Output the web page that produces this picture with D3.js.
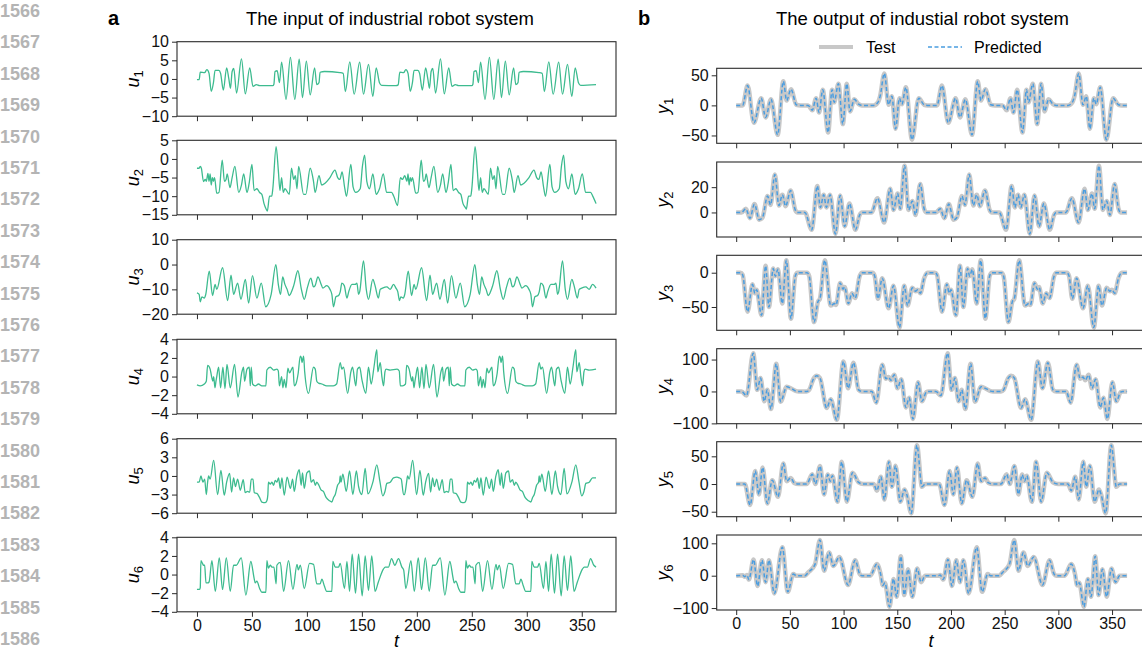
<!DOCTYPE html>
<html><head><meta charset="utf-8">
<script src="https://cdn.jsdelivr.net/npm/d3@7"></script>
<style>
body{margin:0;background:#fff;overflow:hidden}
text{font-family:"Liberation Sans",Arial,Helvetica,sans-serif}
</style>
</head><body>
<svg id="chart" width="1142" height="651"></svg>
<script>
// ---------------- DATA ----------------
const tTicks = [0, 50, 100, 150, 200, 250, 300, 350];
const lineNumbers = [1566,1567,1568,1569,1570,1571,1572,1573,1574,1575,1576,1577,1578,1579,1580,1581,1582,1583,1584,1585,1586];
const inputLabels = ["1","2","3","4","5","6"];
const outputLabels = ["1","2","3","4","5","6"];
const legendLabels = ["Test", "Predicted"];
const titleA = "The input of industrial robot system";
const titleB = "The output of industial robot system";

const inputYTicks = [[-10,-5,0,5,10],[-15,-10,-5,0,5],[-20,-10,0,10],[-4,-2,0,2,4],[-6,-3,0,3,6],[-4,-2,0,2,4]];
const outputYTicks = [[-50,0,50],[0,20],[-50,0],[-100,0,100],[-50,0,50],[-100,0,100]];

// input u1..u6 : [t, value]
const u1 = [[0,-0.2],[2,-0.2],[3,1.8],[7,1.7],[9,2.5],[11,1.5],[13,-3.3],[15,-1],[16.5,2.3],[20,2.3],[21.5,1.5],[24,-3],[27,3],[29,0],[30.5,-2.5],[32,2],[33.5,2.8],[36,-3.8],[40.5,5.4],[44,-4],[48,3],[51,-2],[54,-1.5],[57,-1.8],[69,-1.8],[70,-1.4],[71,2],[73,2.2],[75,-1],[77,4.5],[81,-5.5],[85,5.8],[89,-5.5],[93,5.3],[96,-5],[99.5,4.8],[103,-4.3],[107,3],[109,-1.5],[111,-1],[112,1.8],[116,2],[130,1.7],[133,1.5],[135,-3.4],[139,4.6],[143,-4.1],[148,4.5],[151.5,-4.1],[156,3.9],[160,-4.7],[163,3],[166,-1],[168,-1.7],[181,-1.8],
[183,-1.6],[184.5,1.8],[188,1.7],[190,2.5],[192,1.5],[194,-3.3],[196,-1],[197.5,2.3],[201,2.3],[202.5,1.5],[205,-3],[208,3],[210,0],[211.5,-2.5],[213,2],[214.5,2.8],[217,-3.8],[221.5,5.4],[225,-4],[229,3],[232,-2],[235,-1.5],[238,-1.8],[250,-1.8],[251,-1.4],[252,2],[254,2.2],[256,-1],[258,4.5],[262,-5.5],[266,5.8],[270,-5.5],[274,5.3],[277,-5],[280.5,4.8],[284,-4.3],[288,3],[290,-1.5],[292,-1],[293,1.8],[297,2],[311,1.7],[314,1.5],[316,-3.4],[320,4.6],[324,-4.1],[329,4.5],[332.5,-4.1],[337,3.9],[341,-4.7],[344,3],[347,-1],[349,-1.7],[363,-1.5]];

const u2 = [[0,-2.5],[2,-2.5],[3,-2],[4,-2.5],[6,-6.1],[7.5,-5.5],[8.5,-6],[10,-3.9],[11,-6],[12,-4],[13,-7],[14,-5],[15,-6],[16,-5],[18,-9.2],[20,-9],[23,-0.3],[25,-6],[26.5,-5.5],[27.5,-4],[30,-7.7],[32,-5],[34.5,-2],[38,-9],[40.5,-7],[42.5,-4],[45.5,-9],[47.5,-6.5],[50,-1.5],[52,-8.5],[54.5,-8],[57,-9],[59,-9.5],[61,-12],[63,-13.5],[64,-14],[66,-10],[68,-10],[69,-8],[72,3.3],[74,-3],[75.5,-8.5],[77,-5],[78.5,-9],[80,-8],[84,-9.5],[86,-2.5],[88,-5.5],[89.5,-4.5],[91,-8],[92.5,-2],[97,-9.5],[99,-9.5],[103,-2.5],[106,-6],[107.5,-9],[111,-4.5],[113.5,-7],[116.5,-6.5],[121,-5],[125.5,-3],[128,-5],[130,-5.5],[132,-3.5],[134.5,-8],[136,-10],[140,-1.5],[142,-7.5],[144.5,-9],[148.5,-8],[150.5,-2],[152.5,1],[154.5,-6],[157,-8],[160,-4],[163,-9.5],[166,-8],[169.5,-4],[172.5,-9],[177,-9],[179,-10],[182.5,-12.5],
[185,-5],[187,-5.5],[189,-4.5],[191,-6],[192,-4],[193,-7],[194,-5],[195,-6],[196,-5],[199,-9.2],[201,-9],[204,-0.3],[206,-6],[207.5,-5.5],[208.5,-4],[211,-7.7],[213,-5],[215.5,-2],[219,-9],[221.5,-7],[223.5,-4],[226.5,-9],[228.5,-6.5],[231,-1.5],[233,-8.5],[235.5,-8],[238,-9],[240,-9.5],[242,-12],[244,-13],[245,-13.5],[247,-10],[249,-10],[250,-8],[253,3.3],[255,-3],[256.5,-8.5],[258,-5],[259.5,-9],[261,-8],[265,-9.5],[267,-2.5],[269,-5.5],[270.5,-4.5],[272,-8],[273.5,-2],[278,-9.5],[280,-9.5],[284,-2.5],[287,-6],[288.5,-9],[292,-4.5],[294.5,-7],[297.5,-6.5],[302,-5],[306.5,-3],[309,-5],[311,-5.5],[313,-3.5],[315.5,-8],[317,-10],[321,-1.5],[323,-7.5],[325.5,-9],[329.5,-8],[331.5,-2],[333.5,1],[335.5,-6],[338,-8],[341,-4],[344,-9.5],[347,-8],[350.5,-4],[353.5,-9],[358,-9],[360,-10],[363,-12]];

const u3 = [[0,-11.4],[2,-12],[3,-15],[4.5,-13],[6.7,-13.5],[8,-12],[11.2,-2.7],[14.2,-12.5],[16.5,-8],[18,-10],[23.3,-1.3],[27.9,-14.5],[31,-4.3],[33.3,-12],[37,-7.5],[40,-14],[44,-6],[47,-15.5],[50.5,-4.5],[54.5,-13.5],[58.5,-7.5],[62.5,-17],[67.5,-12],[71.8,0],[74,-8],[76,-12],[78,-5],[80,-8],[82,-10],[84,-12.5],[86,-11],[88,-8.5],[91.8,-2.5],[95,-10],[97.6,-14],[100.6,-9],[103.6,-5.5],[106,-9],[107.5,-8.5],[110,-5],[113,-8],[114.5,-9.5],[118,-8.5],[121,-10],[122.7,-12],[124.2,-17],[126.4,-13],[128.8,-12.5],[130.3,-11],[131.8,-7.5],[134,-8.5],[136.4,-13.5],[138,-11],[141,-8],[144,-8],[145.5,-7.5],[147,-12],[148,-11],[151.5,1.5],[154,-10],[156,-14],[160,-6],[162,-8.5],[165,-13.5],[166.7,-10],[168.8,-9.5],[172.7,-9],[175.8,-10],[178.8,-8],[181,-9.5],[182.7,-11],[184.2,-14.5],
[185.5,-13],[187.7,-13.5],[189,-12],[192.2,-2.7],[195.2,-12.5],[197.5,-8],[199,-10],[204.3,-1.3],[208.9,-14.5],[212,-4.3],[214.3,-12],[218,-7.5],[221,-14],[225,-6],[228,-15.5],[231.5,-4.5],[235.5,-13.5],[239.5,-7.5],[243.5,-17],[248.5,-12],[252.8,0],[255,-8],[257,-12],[259,-5],[261,-8],[263,-10],[265,-12.5],[267,-11],[269,-8.5],[272.8,-2.5],[276,-10],[278.6,-14],[281.6,-9],[284.6,-5.5],[287,-9],[288.5,-8.5],[291,-5],[294,-8],[295.5,-9.5],[299,-8.5],[302,-10],[303.7,-12],[305.2,-17],[307.4,-13],[309.8,-12.5],[311.3,-11],[312.8,-7.5],[315,-8.5],[317.4,-13.5],[319,-11],[322,-8],[325,-8],[326.5,-7.5],[328,-12],[329,-11],[332.5,1.5],[335,-10],[337,-14],[341,-6],[343,-8.5],[346,-13.5],[347.7,-10],[349.8,-9.5],[353.7,-9],[356.8,-10],[359.8,-8],[363,-9.5]];

const u4 = [[0,-0.9],[3,-1],[6.7,-0.8],[8.5,-0.5],[9.7,1.2],[12,0.8],[13.3,0],[14.5,-0.5],[15.2,0],[16.4,-1.2],[17.3,-0.5],[18,0],[19.7,1],[21.5,-1.2],[23.6,1],[25.5,-1.3],[27.3,1.3],[30.3,-1.2],[34.2,1.3],[37.3,-2.2],[40.9,0.5],[42.4,1],[43.3,-0.5],[45.5,0.8],[47.6,1],[48.5,-1],[49.4,1],[50.6,-0.8],[53,-1],[56,-0.8],[59,-1],[62.7,-1],[63.6,0.7],[66.7,1],[69.7,0.7],[72.7,0.8],[74,0.6],[75,-1],[77,0],[78.2,-1.2],[79.4,-0.3],[81,-1.2],[82.7,0.9],[84.2,0.4],[87.3,1],[88.5,-1],[90,-0.8],[92,0.3],[94,2.2],[95,2],[95.5,1.5],[97,2.2],[98,0.5],[101.5,-1.8],[106,1],[107.6,0.8],[109,-0.5],[110.6,-0.7],[113.6,-0.8],[118,-1],[124,-1],[127,-0.8],[130.3,1.5],[131.8,0.8],[133.3,1],[137,-1.8],[140,0.5],[141.5,1],[144.5,-1],[146,0.8],[148,1],[150,-0.3],[153.6,-1.8],[156,1],[158.5,-0.8],[161,1],[163.6,2.9],[164.5,0.5],[166.7,1.5],[168.2,0],[169.7,-1],[171,0.5],[172,0.8],[175.7,0.7],[182,0.8],[184,0.6],[185,-1],
[187,-1],[189.7,-0.8],[190.7,1.2],[193,0.8],[194.3,0],[195.5,-0.5],[196.2,0],[197.4,-1.2],[198.3,-0.5],[199,0],[200.7,1],[202.5,-1.2],[204.6,1],[206.5,-1.3],[208.3,1.3],[211.3,-1.2],[215.2,1.3],[218.3,-2.2],[221.9,0.5],[223.4,1],[224.3,-0.5],[226.5,0.8],[228.6,1],[229.5,-1],[230.4,1],[231.6,-0.8],[234,-1],[237,-0.8],[240,-1],[243.7,-1],[244.6,0.7],[247.7,1],[250.7,0.7],[253.7,0.8],[255,0.6],[256,-1],[258,0],[259.2,-1.2],[260.4,-0.3],[262,-1.2],[263.7,0.9],[265.2,0.4],[268.3,1],[269.5,-1],[271,-0.8],[273,0.3],[275,2.2],[276,2],[276.5,1.5],[278,2.2],[279,0.5],[282.5,-1.8],[287,1],[288.6,0.8],[290,-0.5],[291.6,-0.7],[294.6,-0.8],[299,-1],[305,-1],[308,-0.8],[311.3,1.5],[312.8,0.8],[314.3,1],[318,-1.8],[321,0.5],[322.5,1],[325.5,-1],[327,0.8],[329,1],[331,-0.3],[334.6,-1.8],[337,1],[339.5,-0.8],[342,1],[344.6,2.9],[345.5,0.5],[347.7,1.5],[349.2,0],[350.7,-1],[352,0.5],[353,0.8],[356.7,0.7],[363,0.8]];

const u5 = [[0,-1],[2,-1],[3.6,0],[4.5,-0.5],[5.5,-1],[7,-0.5],[8.5,-3],[9.7,-1],[10.6,0],[12,-0.5],[15.2,2.5],[18.8,-3],[21.8,0.9],[24.8,-3.1],[27,-1],[29.7,0.4],[31.5,-2.6],[33.3,-0.3],[35,-1.7],[37,-0.5],[39.4,-2.3],[42.1,-0.6],[43.9,-2.7],[46,-2.5],[48,-2.6],[49.4,-0.5],[51,-0.5],[52.1,-2.7],[54.5,-2.8],[57,-3.5],[59,-4.2],[62.1,-4.3],[63.6,-4],[64.5,-3],[65,-1],[66.7,-1.3],[68.2,-1],[69.7,-1.5],[71.2,-0.7],[72.7,-1],[74.2,-0.3],[75.8,-2],[77.3,-0.3],[79.4,-3.1],[82,-0.2],[85,-2],[87,-0.5],[88.5,-2.5],[90.9,0],[93,1],[94.8,-1.5],[96,0.5],[97.6,-2],[100,0.5],[102.4,0.8],[103.9,-1],[106,-0.6],[107.6,-1.5],[109,-1],[110.9,-1.5],[112.7,-2.2],[115,-2.5],[117.6,-3.5],[120.6,-4],[122.7,-4.2],[124.2,-3.5],[125.8,-3],[127.9,-1.5],[129.7,-1],[130.3,0],[131,-1],[132.7,0.3],[135.8,-2.5],[138.8,0.8],[141.8,-3],[145,0.8],[147,-1.7],[150,-3],[153,1.2],[155.5,-2.9],[160,-1],[163.6,1.8],[166.5,-1],[169,-3.2],[171,-2.5],[172.7,-1.2],[175.8,-1],[178.8,-0.3],[181.8,-0.2],[184,-0.3],[185.8,-0.5],[187.9,-3],
[188.8,-3],[190.7,-1],[191.6,0],[193,-0.5],[196.2,2.5],[199.8,-3],[202.8,0.9],[205.8,-3.1],[208,-1],[210.7,0.4],[212.5,-2.6],[214.3,-0.3],[216,-1.7],[218,-0.5],[220.4,-2.3],[223.1,-0.6],[224.9,-2.7],[227,-2.5],[229,-2.6],[230.4,-0.5],[232,-0.5],[233.1,-2.7],[235.5,-2.8],[238,-3.5],[240,-4.2],[243.1,-4.3],[244.6,-4],[245.5,-3],[246,-1],[247.7,-1.3],[249.2,-1],[250.7,-1.5],[252.2,-0.7],[253.7,-1],[255.2,-0.3],[256.8,-2],[258.3,-0.3],[260.4,-3.1],[263,-0.2],[266,-2],[268,-0.5],[269.5,-2.5],[271.9,0],[274,1],[275.8,-1.5],[277,0.5],[278.6,-2],[281,0.5],[283.4,0.8],[284.9,-1],[287,-0.6],[288.6,-1.5],[290,-1],[291.9,-1.5],[293.7,-2.2],[296,-2.5],[298.6,-3.5],[301.6,-4],[303.7,-4.2],[305.2,-3.5],[306.8,-3],[308.9,-1.5],[310.7,-1],[311.3,0],[312,-1],[313.7,0.3],[316.8,-2.5],[319.8,0.8],[322.8,-3],[326,0.8],[328,-1.7],[331,-3],[334,1.2],[336.5,-2.9],[341,-1],[344.6,1.8],[347.5,-1],[350,-3.2],[352,-2.5],[353.7,-1.2],[356.8,-1],[359.8,-0.3],[363,-0.3]];

const u6 = [[0,-1.6],[2.4,-1.6],[3,-1.4],[3.6,1.5],[5,1.2],[6,1],[7,1],[8.2,-0.9],[9.7,-0.9],[11,-0.8],[13.6,1.5],[16.7,-1.8],[20.3,1.8],[23.3,-1.6],[26.7,1.8],[30.3,-1.8],[33.3,1],[35.8,1],[40.3,1.8],[44.5,-2.2],[49,1.4],[52,-0.4],[53,-0.9],[54.5,-0.7],[57,-1.5],[59,-1.9],[62.7,-1.9],[63.6,1.5],[65,0.7],[66.7,1],[68.2,0.8],[70,0.8],[72,-1],[72.7,1],[75.8,1.3],[78.8,-1.8],[83.3,1.5],[87.3,-1.6],[91,1.1],[92.2,0.5],[94,1],[97.6,-1.5],[102.4,1.2],[106,1.1],[109,-1],[112,-1],[113.6,-0.5],[115.8,-1.2],[118,-1.8],[122.7,-1.8],[123.6,1.4],[125.8,0.8],[128.8,0.8],[130.3,1.2],[134.2,-1.5],[136.4,1.4],[138.8,-1.8],[141.2,2.2],[144.2,-2],[147,2.2],[150.3,-2.3],[153,2],[156,-1.7],[159,2],[162,-1.8],[165,-0.8],[169.7,0.6],[171.2,0.8],[174.2,0.8],[177,1.7],[180,1],[183.3,1.7],[186.4,0.8],[188,0.5],[190,-1.5],
[194.6,1.5],[197.7,-1.8],[201.3,1.8],[204.3,-1.6],[207.7,1.8],[211.3,-1.8],[214.3,1],[216.8,1],[221.3,1.8],[225.5,-2.2],[230,1.4],[233,-0.4],[234,-0.9],[235.5,-0.7],[238,-1.5],[240,-1.9],[243.7,-1.9],[244.6,1.5],[246,0.7],[247.7,1],[249.2,0.8],[251,0.8],[253,-1],[253.7,1],[256.8,1.3],[259.8,-1.8],[264.3,1.5],[268.3,-1.6],[272,1.1],[273.2,0.5],[275,1],[278.6,-1.5],[283.4,1.2],[287,1.1],[290,-1],[293,-1],[294.6,-0.5],[296.8,-1.2],[299,-1.8],[303.7,-1.8],[304.6,1.4],[306.8,0.8],[309.8,0.8],[311.3,1.2],[315.2,-1.5],[317.4,1.4],[319.8,-1.8],[322.2,2.2],[325.2,-2],[328,2.2],[331.3,-2.3],[334,2],[337,-1.7],[340,2],[343,-1.8],[346,-0.8],[350.7,0.6],[352.2,0.8],[355.2,0.8],[358,1.7],[361,1],[363,0.8]];

// output y1..y6 test : [t, value]  (prediction overlaps test)
const y1Test = [[0,0],[6,0],[10.6,33],[16.5,-29],[23.3,12],[27.4,-20],[32.4,10],[38.6,-49],[43.9,40],[47,8],[51,27],[56,1],[60,0],[67,0],[70.9,-8],[74.4,12],[77.2,-12],[80.6,26],[85.6,-45],[89.3,26],[91.2,5],[95.2,36],[99.3,-31],[103,36],[106,-10],[110,10],[114,2],[117,0],[128,0],[132,5],[134,15],[138,53],[141.9,1],[145,15],[148.4,-39],[152,12],[154.3,2],[158,30],[163.7,-57],[170,12],[175,1],[178,0],
[187,0],[191.6,33],[197.5,-29],[204.3,12],[208.4,-20],[213.4,10],[219.6,-49],[224.9,40],[228,8],[232,27],[237,1],[241,0],[248,0],[251.9,-8],[255.4,12],[258.2,-12],[261.6,26],[266.6,-45],[270.3,26],[272.2,5],[276.2,36],[280.3,-31],[284,36],[287,-10],[291,10],[295,2],[298,0],[309,0],[313,5],[315,15],[319,53],[322.9,1],[326,15],[329.4,-39],[333,12],[335.3,2],[339,30],[344.7,-57],[351,12],[356,1],[359,0],[364,0]];

const y2Test = [[0,0],[5,0],[9,3],[12.8,-4.5],[17,6.6],[21.5,-5.8],[24.5,-4],[29.2,13],[32,6],[36,30],[39.8,5.5],[43,14],[46,5],[50.7,17.4],[55,2],[57,0],[64,0],[70.3,-13.7],[75.6,21],[78.4,4],[81.5,14],[84,4],[87.4,14],[92.4,-17],[96.8,13.4],[101,-11],[105.5,7],[111,-13.7],[115,-2],[117,0],[126,0],[131.6,11.3],[137.8,-8],[143.4,18.7],[146.5,2],[150.3,15],[152.8,3],[156.8,37],[160.5,2],[164,9],[167,-2],[171.4,22.6],[175,3],[177,0],
[186,0],[190,3],[193.8,-4.5],[198,6.6],[202.5,-5.8],[205.5,-4],[210.2,13],[213,6],[217,30],[220.8,5.5],[224,14],[227,5],[231.7,17.4],[236,2],[238,0],[245,0],[251.3,-13.7],[256.6,21],[259.4,4],[262.5,14],[265,4],[268.4,14],[273.4,-17],[277.8,13.4],[282,-11],[286.5,7],[292,-13.7],[296,-2],[298,0],[307,0],[312.6,11.3],[318.8,-8],[324.4,18.7],[327.5,2],[331.3,15],[333.8,3],[337.8,37],[341.5,2],[345,9],[348,-2],[352.4,22.6],[356,3],[358,0],[364,0]];

const y3Test = [[0,0],[4,0],[6,-3],[10.6,-57],[15.2,-17],[17.4,-30],[19,-25],[23.6,-62],[27.4,10],[30.5,-50],[34.5,6],[36.4,-5],[38.9,5],[42.9,-45],[46.7,18],[51,-67],[55,-5],[57,0],[66,0],[68,-5],[72.5,-72],[76.2,-42],[78,-38],[82.5,18],[88,-48],[91.5,-45],[93,-47],[96.8,-15],[99.5,-24],[101,-21],[104.5,-45],[107.7,-30],[110.8,-37],[115,-5],[117,0],[127,0],[129,-5],[132,-38],[136,-8],[141.9,-52],[146.5,-19],[152,-80],[156.5,-19],[159.6,-48],[164,-22],[167,-27],[169,-25],[171.5,-30],[175,-8],[178,0],
[185,0],[187,-3],[191.6,-57],[196.2,-17],[198.4,-30],[200,-25],[204.6,-62],[208.4,10],[211.5,-50],[215.5,6],[217.4,-5],[219.9,5],[223.9,-45],[227.7,18],[232,-67],[236,-5],[238,0],[247,0],[249,-5],[253.5,-72],[257.2,-42],[259,-38],[263.5,18],[269,-48],[272.5,-45],[274,-47],[277.8,-15],[280.5,-24],[282,-21],[285.5,-45],[288.7,-30],[291.8,-37],[296,-5],[298,0],[308,0],[310,-5],[313,-38],[317,-8],[322.9,-52],[327.5,-19],[333,-80],[337.5,-19],[340.6,-48],[345,-22],[348,-27],[350,-25],[352.5,-30],[356,-8],[359,0],[364,0]];

const y4Test = [[0,0],[5,0],[9.6,-13],[15.9,120],[19.6,5],[22.7,42],[26.1,-31],[29,5],[32.4,-55],[37.3,87],[41.4,-32],[47,15],[52,8],[56,1],[58,0],[65.6,0],[68,5],[72,40],[75,49],[78,42],[84.3,-52],[88,-24],[93.7,-89],[99.9,94],[104.2,10],[109.2,90],[114,5],[117,0],[126.3,0],[130.4,-35],[136,84],[139.4,40],[142,45],[144,35],[147.2,52],[150.3,10],[153.7,38],[158,-50],[161,-20],[164.6,-86],[169.3,29],[173,-31],[177,-2],[179,0],
[186,0],[190.6,-13],[196.9,120],[200.6,5],[203.7,42],[207.1,-31],[210,5],[213.4,-55],[218.3,87],[222.4,-32],[228,15],[233,8],[237,1],[239,0],[246.6,0],[249,5],[253,40],[256,49],[259,42],[265.3,-52],[269,-24],[274.7,-89],[280.9,94],[285.2,10],[290.2,90],[295,5],[298,0],[307.3,0],[311.4,-35],[317,84],[320.4,40],[323,45],[325,35],[328.2,52],[331.3,10],[334.7,38],[339,-50],[342,-20],[345.6,-86],[350.3,29],[354,-31],[358,-2],[360,0],[364,0]];

const y5Test = [[0,0],[8,0],[13,-38],[17.7,23.5],[21.2,-18.7],[24.6,30],[29,-35],[33.6,7],[38.9,-23],[43.9,37],[47,5],[50.7,11],[54,2],[58,0],[65.6,0],[70.9,17.5],[73.7,0],[78.1,32.5],[81.8,-18.7],[85.3,17],[87.5,5],[89.6,15],[94.3,-32],[98.3,40],[103,-32],[108.3,20.5],[114,3],[118.5,0],[128,0],[131,-12],[134.7,13],[138,-28],[142.2,40],[145,-5],[148.4,33],[152.8,-32],[156.8,-10],[159,-20],[163,-53],[168.3,70],[173,-5],[176,0],
[189,0],[194,-38],[198.7,23.5],[202.2,-18.7],[205.6,30],[210,-35],[214.6,7],[219.9,-23],[224.9,37],[228,5],[231.7,11],[235,2],[239,0],[246.6,0],[251.9,17.5],[254.7,0],[259.1,32.5],[262.8,-18.7],[266.3,17],[268.5,5],[270.6,15],[275.3,-32],[279.3,40],[284,-32],[289.3,20.5],[295,3],[299.5,0],[309,0],[312,-12],[315.7,13],[319,-28],[323.2,40],[326,-5],[329.4,33],[333.8,-32],[337.8,-10],[340,-20],[344,-53],[349.3,70],[354,-5],[357,0],[364,0]];

const y6Test = [[0,0],[6,1],[8,-3],[10,2],[11.8,-12],[16.2,50],[19.9,-32],[24,48],[27.4,-20],[30.5,48],[35.5,-55],[43,88],[48,-50],[53.2,5],[56,0],[64,0],[67,10],[73.4,35],[78,110],[81.8,15],[86.5,72],[90.5,30],[96.1,58],[104.2,-29],[110.8,48],[115,5],[117,0],[124.8,0],[131,36],[134.5,5],[136.5,-30],[138.5,-22],[142.8,-96],[146.5,-10],[149.4,-65],[153.3,60],[156.5,-60],[160,20],[164,-65],[168.5,22],[172.2,-20],[176,0],
[188,0],[190,2],[192.8,-12],[197.2,50],[200.9,-32],[205,48],[208.4,-20],[211.5,48],[216.5,-55],[224,88],[229,-50],[234.2,5],[237,0],[245,0],[248,10],[254.4,35],[259,110],[262.8,15],[267.5,72],[271.5,30],[277.1,58],[285.2,-29],[291.8,48],[296,5],[298,0],[305.8,0],[312,36],[315.5,5],[317.5,-30],[319.5,-22],[323.8,-96],[327.5,-10],[330.4,-65],[334.3,60],[337.5,-60],[341,20],[345,-65],[349.5,22],[353.2,-20],[357,0],[364,0]];

// predicted series (visually identical to test in the figure)
const y1Pred = y1Test, y2Pred = y2Test, y3Pred = y3Test, y4Pred = y4Test, y5Pred = y5Test, y6Pred = y6Test;

// ---------------- LAYOUT / STYLE ----------------
const inputSeries = [u1,u2,u3,u4,u5,u6];
const testSeries = [y1Test,y2Test,y3Test,y4Test,y5Test,y6Test];
const predSeries = [y1Pred,y2Pred,y3Pred,y4Pred,y5Pred,y6Pred];
const inputYDomains = [[-10,10],[-15,5],[-20,10],[-4,4],[-6,6],[-4,4]];
const outputYDomains = [[-63,61.6],[-19.4,39.9],[-84,25.4],[-101,134],[-59,76.4],[-106,125.7]];
const xDomain = [-18.15, 381.15];
const panelA = {left:177, right:616, tops:[41.7,140.3,239.7,339.3,438.7,537.3], h:74.5};
const panelB = {left:716.7, right:1145.5, tops:[68.3,162,255.3,348.7,441.7,535], h:75};
const GREEN = "#3dbb8f", GRAY = "#c8c8c8", BLUE = "#4a9de0", SPINE = "#2b2b2b";
const FONT = '"Liberation Sans",Arial,Helvetica,sans-serif';

const svg = d3.select("#chart");

// line numbers
svg.append("g").selectAll("text").data(lineNumbers).join("text")
  .attr("x", 40).attr("y", (d,i) => 17 + i*31.4)
  .attr("text-anchor","end").attr("font-size",18).attr("font-weight","bold")
  .attr("fill","#b4b4b4").text(d => d);

// panel letters and titles
svg.append("text").attr("x",108).attr("y",25).attr("font-size",20).attr("font-weight","bold").text("a");
svg.append("text").attr("x",638).attr("y",25).attr("font-size",20).attr("font-weight","bold").text("b");
svg.append("text").attr("x",390).attr("y",25).attr("text-anchor","middle").attr("font-size",18.5).text(titleA);
svg.append("text").attr("x",922.5).attr("y",25).attr("text-anchor","middle").attr("font-size",18.5).text(titleB);

// legend
const leg = svg.append("g");
leg.append("line").attr("x1",819).attr("x2",853).attr("y1",47).attr("y2",47).attr("stroke",GRAY).attr("stroke-width",4);
leg.append("text").attr("x",866).attr("y",53).attr("font-size",16).text(legendLabels[0]);
leg.append("line").attr("x1",928).attr("x2",962).attr("y1",47).attr("y2",47).attr("stroke",BLUE).attr("stroke-width",1.5).attr("stroke-dasharray","4,2.5");
leg.append("text").attr("x",974).attr("y",53).attr("font-size",16).text(legendLabels[1]);

function styleAxis(g){
  g.select(".domain").remove();
  g.selectAll(".tick line").attr("stroke",SPINE).attr("stroke-width",1);
  g.selectAll(".tick text").attr("font-size",16).attr("fill","#111").attr("font-family",FONT);
}

function subplot(panel, i, yDomain, yTicks, label, letter, drawFn, last){
  const top = panel.tops[i], bottom = top + panel.h;
  const x = d3.scaleLinear().domain(xDomain).range([panel.left, panel.right]);
  const y = d3.scaleLinear().domain(yDomain).range([bottom, top]);
  const g = svg.append("g");
  const clipId = "clip" + letter + i;
  g.append("clipPath").attr("id",clipId).append("rect")
    .attr("x",panel.left).attr("y",top).attr("width",panel.right-panel.left).attr("height",panel.h);
  const plot = g.append("g").attr("clip-path",`url(#${clipId})`);
  drawFn(plot, x, y);
  g.append("rect").attr("x",panel.left).attr("y",top).attr("width",panel.right-panel.left).attr("height",panel.h)
    .attr("fill","none").attr("stroke",SPINE).attr("stroke-width",1.1);
  const xa = g.append("g").attr("transform",`translate(0,${bottom})`)
    .call(d3.axisBottom(x).tickValues(tTicks).tickSize(5).tickPadding(3).tickFormat(last ? d3.format("d") : () => ""));
  styleAxis(xa);
  const ya = g.append("g").attr("transform",`translate(${panel.left},0)`)
    .call(d3.axisLeft(y).tickValues(yTicks).tickSize(5).tickPadding(3).tickFormat(d3.format("d")));
  styleAxis(ya);
  const lx = letter === "a" ? 139 : 669;
  const lab = g.append("text").attr("transform",`translate(${lx},${(top+bottom)/2}) rotate(-90)`)
    .attr("text-anchor","middle").attr("font-size",18);
  lab.append("tspan").attr("font-style","italic").text(letter === "a" ? "u" : "y");
  lab.append("tspan").attr("font-size",13).attr("dy",4).text(label);
  if (last) {
    g.append("text").attr("x",(panel.left+panel.right)/2).attr("y",647).attr("text-anchor","middle")
      .attr("font-size",18).attr("font-style","italic").text("t");
  }
}

// Panel a: inputs
inputSeries.forEach((s, i) => {
  subplot(panelA, i, inputYDomains[i], inputYTicks[i], inputLabels[i], "a", (p, x, y) => {
    p.append("path").datum(s)
      .attr("d", d3.line().x(d => x(d[0])).y(d => y(d[1])).curve(d3.curveMonotoneX))
      .attr("fill","none").attr("stroke",GREEN).attr("stroke-width",1.3).attr("stroke-linejoin","round");
  }, i === 5);
});

// Panel b: outputs
testSeries.forEach((s, i) => {
  subplot(panelB, i, outputYDomains[i], outputYTicks[i], outputLabels[i], "b", (p, x, y) => {
    const ln = d3.line().x(d => x(d[0])).y(d => y(d[1])).curve(d3.curveMonotoneX);
    p.append("path").datum(s).attr("d", ln)
      .attr("fill","none").attr("stroke",GRAY).attr("stroke-width",4.5).attr("stroke-linejoin","round");
    p.append("path").datum(predSeries[i]).attr("d", ln)
      .attr("fill","none").attr("stroke",BLUE).attr("stroke-width",1.5).attr("stroke-dasharray","4,2.5");
  }, i === 5);
});
</script>
</body></html>
